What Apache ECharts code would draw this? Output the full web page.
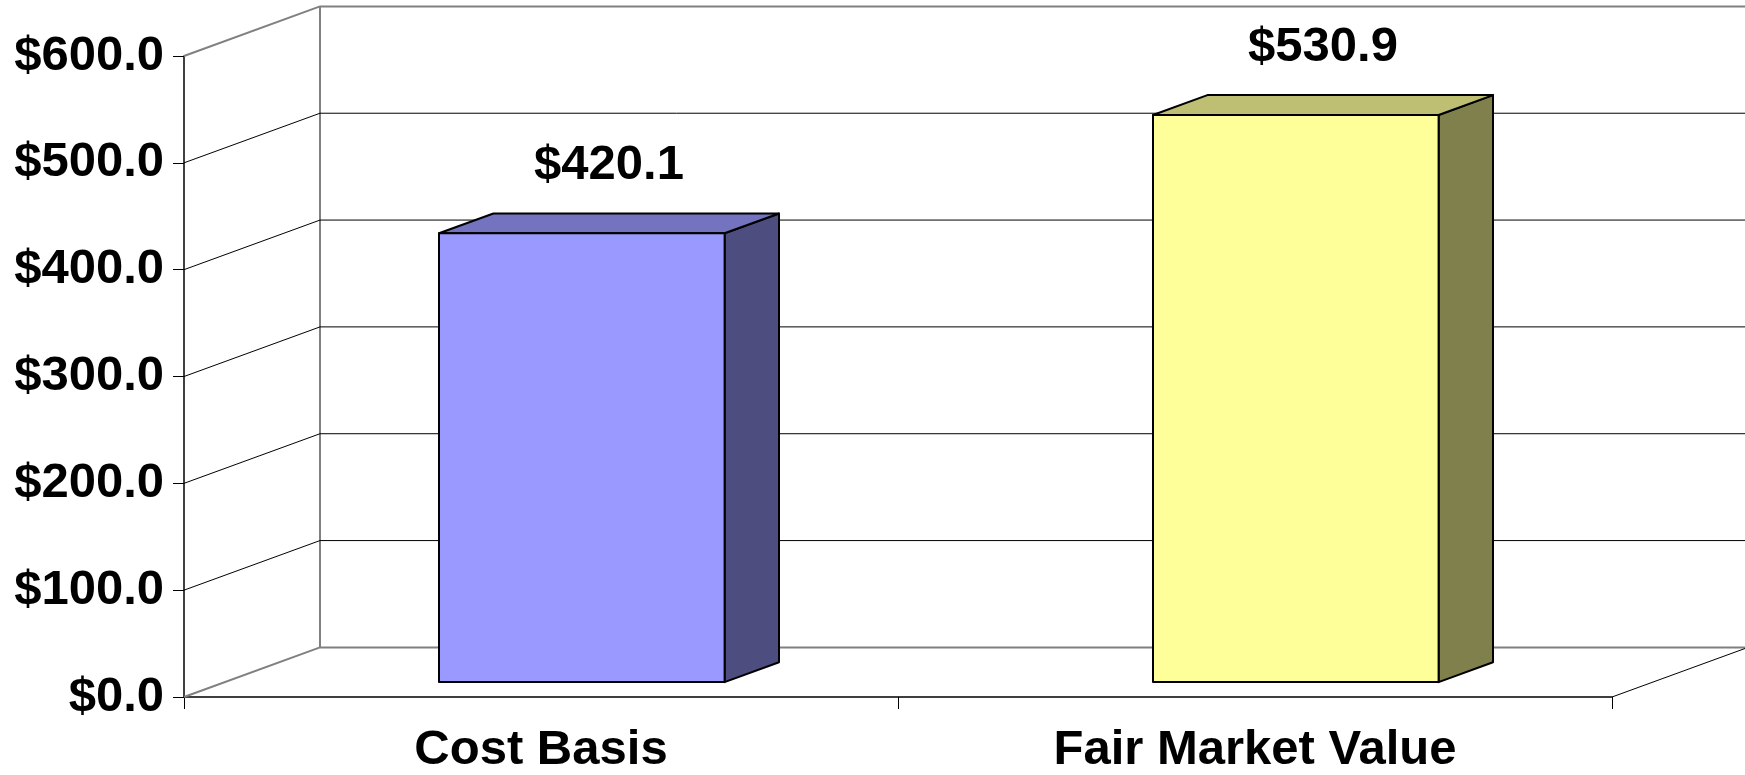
<!DOCTYPE html>
<html>
<head>
<meta charset="utf-8">
<script src="https://cdn.jsdelivr.net/npm/echarts@6/dist/echarts.min.js"></script>
<style>
html,body{margin:0;padding:0;background:#fff;}
#chart{width:1745px;height:775px;}
</style>
</head>
<body>
<div id="chart"></div>
<script>
// ---- data ----
var categories = ['Cost Basis', 'Fair Market Value'];
var values = [420.1, 530.9];
var yTicks = [0, 100, 200, 300, 400, 500, 600];
var labelTexts = ['$420.1', '$530.9'];

// ---- style ----
var FONT = '"Liberation Sans", Arial, sans-serif';
var FS = 49;
var DX = 136, DY = -49.6;          // full depth of the 3D box
var BAR_FRONT = 0.3, BAR_DEPTH = 0.4, BAR_WIDTH = 0.4;
var faceColors = [
  { front: '#9999FF', top: '#7373BF', side: '#4D4D80' },
  { front: '#FFFF99', top: '#BFBF73', side: '#80804D' }
];
var YMAX = yTicks[yTicks.length - 1];

var chart = echarts.init(document.getElementById('chart'));

function frameItem(params, api) {
  var v = api.value(0);
  var band = api.size([1, 0])[0];
  var p = api.coord([0, v]);
  var xL = p[0] - band / 2;
  var xR = api.coord([categories.length - 1, v])[0] + band / 2;
  var y = p[1];
  var edge = (v === 0 || v === YMAX);
  var col = edge ? '#808080' : '#000000';
  var lw = edge ? 2 : 1;
  var children = [
    { type: 'line', shape: { x1: xL, y1: y, x2: xL + DX, y2: y + DY }, style: { stroke: col, lineWidth: lw } },
    { type: 'line', shape: { x1: xL + DX, y1: y + DY, x2: xR + DX + 10, y2: y + DY }, style: { stroke: col, lineWidth: lw } }
  ];
  if (v === 0) {
    var top = api.coord([0, YMAX])[1];
    children.push({ type: 'line', shape: { x1: xL + DX, y1: y + DY, x2: xL + DX, y2: top + DY }, style: { stroke: '#808080', lineWidth: 2 } });
    children.push({ type: 'line', shape: { x1: xR, y1: y, x2: xR + DX, y2: y + DY }, style: { stroke: '#000000', lineWidth: 1 } });
  }
  return { type: 'group', children: children };
}

function barItem(params, api) {
  var i = api.value(0);
  var v = api.value(1);
  var c = api.coord([i, v]);
  var b = api.coord([i, 0]);
  var band = api.size([1, 0])[0];
  var w = band * BAR_WIDTH;
  var fx = c[0] - w / 2 + BAR_FRONT * DX;
  var ft = c[1] + BAR_FRONT * DY;
  var fb = b[1] + BAR_FRONT * DY;
  var dx = BAR_DEPTH * DX, dy = BAR_DEPTH * DY;
  var col = faceColors[i];
  var stroke = { stroke: '#000', lineWidth: 2, lineJoin: 'round' };
  return {
    type: 'group',
    children: [
      { type: 'polygon', shape: { points: [[fx + w, ft], [fx + w + dx, ft + dy], [fx + w + dx, fb + dy], [fx + w, fb]] },
        style: Object.assign({ fill: col.side }, stroke) },
      { type: 'polygon', shape: { points: [[fx, ft], [fx + dx, ft + dy], [fx + w + dx, ft + dy], [fx + w, ft]] },
        style: Object.assign({ fill: col.top }, stroke) },
      { type: 'rect', shape: { x: fx, y: ft, width: w, height: fb - ft },
        style: Object.assign({ fill: col.front }, stroke) },
      { type: 'text', x: fx + w / 2 + dx / 2, y: ft + dy - 48,
        style: { text: labelTexts[i], font: 'bold ' + FS + 'px ' + FONT, fill: '#000', align: 'center', verticalAlign: 'middle' } }
    ]
  };
}

chart.setOption({
  animation: false,
  backgroundColor: '#ffffff',
  grid: { left: 184, top: 56, width: 1428, height: 642.3 },
  xAxis: {
    type: 'category',
    data: categories,
    boundaryGap: true,
    axisLine: { show: true, lineStyle: { color: '#000', width: 1.5 } },
    axisTick: { show: true, length: 12, lineStyle: { color: '#000', width: 1 } },
    axisLabel: { margin: 29, color: '#000', fontSize: FS, fontWeight: 'bold', fontFamily: FONT },
    splitLine: { show: false }
  },
  yAxis: {
    type: 'value',
    min: 0,
    max: YMAX,
    interval: 100,
    axisLine: { show: true, lineStyle: { color: '#000', width: 1.5 } },
    axisTick: { show: true, length: 11, lineStyle: { color: '#000', width: 1 } },
    axisLabel: { margin: 20, color: '#000', fontSize: FS, fontWeight: 'bold', fontFamily: FONT,
      formatter: function (v) { return '$' + v.toFixed(1); } },
    splitLine: { show: false }
  },
  series: [
    { type: 'custom', name: 'frame', data: yTicks.map(function (t) { return [t]; }),
      encode: { y: 0 }, renderItem: frameItem, clip: false, silent: true, z: 1 },
    { type: 'custom', name: 'bars', data: values.map(function (v, i) { return [i, v]; }),
      encode: { x: 0, y: 1 }, renderItem: barItem, clip: false, silent: true, z: 3 }
  ]
});
</script>
</body>
</html>
